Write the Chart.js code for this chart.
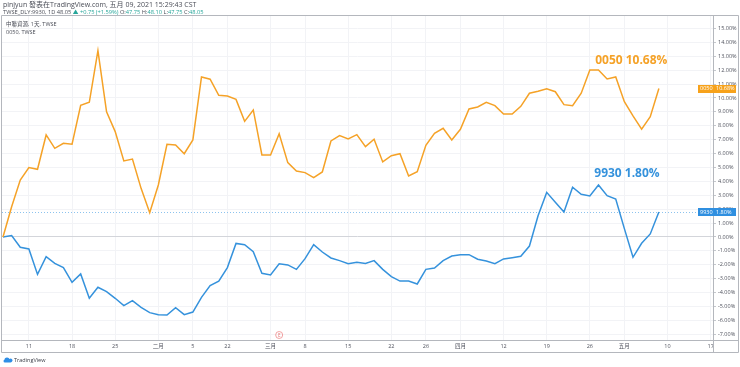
<!DOCTYPE html>
<html>
<head>
<meta charset="utf-8">
<script src="https://cdn.jsdelivr.net/npm/chart.js@4/dist/chart.umd.min.js"></script>
<style>
  html, body { margin: 0; padding: 0; background: #fff; }
  #grapRekap { display: block; }
</style>
</head>
<body>
<canvas id="grapRekap" width="740" height="367"></canvas>
<script>
// trading days (TWSE), Jan 6 - May 7 2021
var dates = [
  '01-06','01-07','01-08','01-11','01-12','01-13','01-14','01-15','01-18','01-19',
  '01-20','01-21','01-22','01-25','01-26','01-27','01-28','01-29','02-01','02-02',
  '02-03','02-04','02-05','02-17','02-18','02-19','02-22','02-23','02-24','02-25',
  '02-26','03-02','03-03','03-04','03-05','03-08','03-09','03-10','03-11','03-12',
  '03-15','03-16','03-17','03-18','03-19','03-22','03-23','03-24','03-25','03-26',
  '03-29','03-30','03-31','04-01','04-06','04-07','04-08','04-09','04-12','04-13',
  '04-14','04-15','04-16','04-19','04-20','04-21','04-22','04-23','04-26','04-27',
  '04-28','04-29','05-03','05-04','05-05','05-06','05-07'
];

// % change since first day
var tw0050 = [
  0.00, 2.18, 4.10, 4.99, 4.87, 7.34, 6.38, 6.74, 6.67, 9.47,
  9.69, 13.40, 9.01, 7.58, 5.47, 5.61, 3.50, 1.75, 3.74, 6.67,
  6.62, 5.99, 6.98, 11.51, 11.35, 10.19, 10.14, 9.90, 8.32, 9.14,
  5.90, 5.90, 7.43, 5.35, 4.75, 4.63, 4.27, 4.68, 6.91, 7.29,
  7.05, 7.36, 6.50, 7.03, 5.40, 5.85, 5.99, 4.39, 4.70, 6.60,
  7.46, 7.82, 6.98, 7.75, 9.21, 9.35, 9.69, 9.45, 8.85, 8.85,
  9.40, 10.34, 10.48, 10.67, 10.45, 9.52, 9.45, 10.34, 12.01, 12.01,
  11.37, 11.51, 9.73, 8.71, 7.75, 8.65, 10.68
];

var tw9930 = [
  0.00, 0.10, -0.74, -0.86, -2.69, -1.42, -1.90, -2.20, -3.26, -2.66,
  -4.41, -3.62, -3.93, -4.41, -4.94, -4.58, -5.06, -5.44, -5.59, -5.61,
  -5.08, -5.59, -5.40, -4.34, -3.50, -3.17, -2.20, -0.46, -0.55, -1.06,
  -2.61, -2.73, -1.92, -2.01, -2.33, -1.56, -0.55, -1.08, -1.51, -1.70,
  -1.92, -1.82, -1.90, -1.70, -2.33, -2.85, -3.17, -3.17, -3.38, -2.33,
  -2.23, -1.70, -1.37, -1.27, -1.27, -1.60, -1.73, -1.92, -1.58, -1.49,
  -1.39, -0.65, 1.53, 3.21, 2.50, 1.80, 3.58, 3.07, 2.95, 3.74,
  2.97, 2.73, 0.60, -1.46, -0.45, 0.22, 1.80
];

// time axis labels (index into trading days, 77 and 82 are future days)
var tickIdx  = [3, 8, 13, 18, 22, 26, 31, 35, 40, 45, 49, 53, 58, 63, 68, 72, 77, 82];
var tickText = ['11','18','25','二月','5','22','三月','8','15','22','26','四月','12','19','26','五月','10','17'];

var priceTicks = [];
for (var p = -7; p <= 15; p++) priceTicks.push(p);

var orange = '#f5a227';
var blue = '#3592dc';
var smallFont = '"Open Sans", "Noto Sans CJK TC", sans-serif';

function toPoints(arr){
    return arr.map(function(v, i){ return {x: i, y: v}; });
}

var extras = {
    id: 'extras',
    beforeDatasetsDraw: function(chart){
        var c = chart.ctx, a = chart.chartArea, y = chart.scales.y;
        // dotted last price line for 9930
        var py = Math.round(y.getPixelForValue(tw9930[tw9930.length - 1])) + 0.5;
        c.save();
        c.strokeStyle = '#8cc3ee';
        c.setLineDash([1, 2]);
        c.lineWidth = 1;
        c.beginPath(); c.moveTo(a.left, py); c.lineTo(a.right, py); c.stroke();
        c.restore();
    },
    afterDraw: function(chart){
        var c = chart.ctx, a = chart.chartArea, x = chart.scales.x, y = chart.scales.y;
        c.save();
        // frame
        c.strokeStyle = '#b4b7bd';
        c.lineWidth = 1;
        c.beginPath();
        c.moveTo(1.5, a.top + 0.5); c.lineTo(738.5, a.top + 0.5);
        c.lineTo(738.5, 352.5); c.lineTo(1.5, 352.5); c.closePath();
        c.moveTo(a.right + 0.5, a.top); c.lineTo(a.right + 0.5, 352.5);
        c.moveTo(1.5, a.bottom + 0.5); c.lineTo(738.5, a.bottom + 0.5);
        c.stroke();

        // header
        c.textBaseline = 'middle';
        c.textAlign = 'left';
        c.font = '7px ' + smallFont;
        c.fillStyle = '#4a4d57';
        c.fillText('pinjyun 發表在TradingView.com, 五月 09, 2021 15:29:43 CST', 3, 5);
        c.font = '5.7px ' + smallFont;
        var hx = 3;
        var parts = [
            ['TWSE_DLY:9930, 1D ', '#4a4d57'], ['48.05 ', '#4a4d57'], ['▲ +0.75 (+1.59%) ', '#26a69a'],
            ['O:', '#4a4d57'], ['47.75 ', '#26a69a'], ['H:', '#4a4d57'], ['48.10 ', '#26a69a'],
            ['L:', '#4a4d57'], ['47.75 ', '#26a69a'], ['C:', '#4a4d57'], ['48.05', '#26a69a']
        ];
        parts.forEach(function(pt){
            c.fillStyle = pt[1];
            c.fillText(pt[0], hx, 12.5);
            hx += c.measureText(pt[0]).width;
        });
        c.font = '5.5px ' + smallFont;
        c.fillStyle = '#4a4d57';
        c.fillText('中聯資源, 1天, TWSE', 6, 24);
        c.fillText('0050, TWSE', 6, 32);

        // last value annotations
        c.font = 'bold 12px ' + smallFont;
        c.textAlign = 'center';
        c.fillStyle = orange;
        c.fillText('0050 10.68%', x.getPixelForValue(72.8), y.getPixelForValue(12.66));
        c.fillStyle = blue;
        c.fillText('9930 1.80%', x.getPixelForValue(72.3), y.getPixelForValue(4.53));

        // price axis labels
        var boxes = [
            ['0050', tw0050[tw0050.length - 1], '#f7a21b'],
            ['9930', tw9930[tw9930.length - 1], '#2f8fe0']
        ];
        c.font = '5.5px ' + smallFont;
        boxes.forEach(function(b){
            var by = y.getPixelForValue(b[1]);
            c.fillStyle = b[2];
            c.fillRect(698, Math.round(by) - 4, 38, 8);
            c.fillStyle = '#fff';
            c.textAlign = 'left';
            c.fillText(b[0], 700, by);
            c.fillText(b[1].toFixed(2) + '%', 716, by);
        });

        // earnings marker
        var ex = x.getPixelForValue(32);
        c.strokeStyle = '#ef8a8a';
        c.lineWidth = 0.8;
        c.beginPath(); c.arc(ex, 335, 3.5, 0, Math.PI * 2); c.stroke();
        c.fillStyle = '#e57373';
        c.textAlign = 'center';
        c.font = '4.5px ' + smallFont;
        c.fillText('E', ex, 335.3);

        // logo
        c.fillStyle = '#2e8ee6';
        c.beginPath();
        c.arc(7, 360, 2.6, Math.PI, 0);
        c.arc(10.5, 360.5, 2, Math.PI * 1.3, Math.PI * 0.5);
        c.lineTo(5, 362.5);
        c.arc(5, 361, 1.5, Math.PI * 0.5, Math.PI * 1.5);
        c.fill();
        c.fillStyle = '#3a3d47';
        c.textAlign = 'left';
        c.font = '5.5px ' + smallFont;
        c.fillText('TradingView', 14, 360.5);
        c.restore();
    }
};

var ctx = document.getElementById('grapRekap');
var chart = new Chart(ctx, {
    type: 'line',
    data: {
        datasets: [
            { label: '0050', data: toPoints(tw0050), borderColor: orange, borderWidth: 1.5, pointRadius: 0, tension: 0 },
            { label: '9930', data: toPoints(tw9930), borderColor: blue, borderWidth: 1.5, pointRadius: 0, tension: 0 }
        ]
    },
    options: {
        responsive: false,
        animation: false,
        devicePixelRatio: 1,
        layout: { padding: { left: 2, top: 15, right: 0, bottom: 15 } },
        plugins: { legend: { display: false }, tooltip: { enabled: false } },
        scales: {
            x: {
                type: 'linear',
                min: -0.116,
                max: 82.27,
                afterBuildTicks: function(s){ s.ticks = tickIdx.map(function(v){ return {value: v}; }); },
                afterFit: function(s){ s.height = 12; },
                ticks: {
                    autoSkip: false, maxRotation: 0, padding: 3,
                    color: '#50535e',
                    font: { size: 5.5, family: smallFont },
                    callback: function(v){ return tickText[tickIdx.indexOf(v)]; }
                },
                grid: { color: '#f2f3f6', tickLength: 0 },
                border: { display: false }
            },
            y: {
                position: 'right',
                min: -7.41,
                max: 15.97,
                afterBuildTicks: function(s){ s.ticks = priceTicks.map(function(v){ return {value: v}; }); },
                afterFit: function(s){ s.width = 27; },
                ticks: {
                    padding: 2,
                    color: '#50535e',
                    font: { size: 5.5, family: smallFont },
                    callback: function(v){ return v.toFixed(2) + '%'; }
                },
                grid: {
                    color: function(g){ return g.tick && g.tick.value === 0 ? '#d3d5da' : '#f2f3f6'; },
                    tickColor: '#c5c8cd',
                    tickLength: 3
                },
                border: { display: false }
            }
        }
    },
    plugins: [extras]
});
</script>
</body>
</html>
